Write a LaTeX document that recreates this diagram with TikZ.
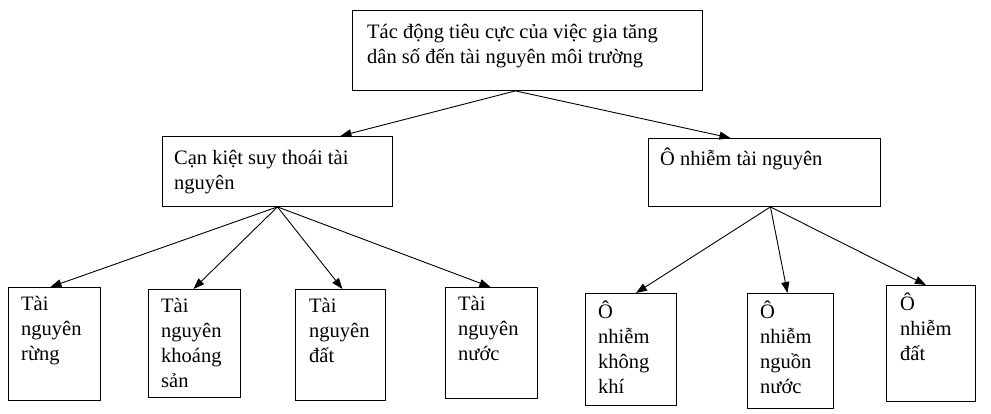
\documentclass[tikz,border=0pt]{standalone}
\usepackage{fontspec}
\setmainfont{Liberation Serif}
\usetikzlibrary{arrows.meta}
\tikzset{
  box/.style={draw, line width=0.9pt, anchor=north west, inner sep=0pt},
  txt/.style={anchor=north west, align=left, inner sep=0pt, font=\fontsize{20.5}{25}\selectfont},
  arr/.style={line width=0.9pt, -{Triangle[length=11pt,width=8pt]}}
}
\begin{document}
\begin{tikzpicture}[x=1pt,y=-1pt]
\useasboundingbox (0,0) rectangle (991,414);
% boxes
\node[box, minimum width=350pt, minimum height=80pt] (top) at (352,10) {};
\node[box, minimum width=230pt, minimum height=70pt] (L) at (162,136) {};
\node[box, minimum width=232pt, minimum height=68pt] (R) at (648,138) {};
\node[box, minimum width=92pt, minimum height=113pt] (b1) at (8,287) {};
\node[box, minimum width=92pt, minimum height=108pt] (b2) at (148,289) {};
\node[box, minimum width=90pt, minimum height=111pt] (b3) at (295,289) {};
\node[box, minimum width=92pt, minimum height=111pt] (b4) at (445,287) {};
\node[box, minimum width=91pt, minimum height=112pt] (b5) at (585,293) {};
\node[box, minimum width=86pt, minimum height=115pt] (b6) at (747,293) {};
\node[box, minimum width=89pt, minimum height=116pt] (b7) at (886,285) {};
% texts
\node[txt] (ttop) at ([shift={(15pt,-14pt)}]top.north west) {Tác động tiêu cực của việc gia tăng\\dân số đến tài nguyên môi trường};
\node[txt] (tL) at ([shift={(12pt,-14pt)}]L.north west) {Cạn kiệt suy thoái tài\\nguyên};
\node[txt] (tR) at ([shift={(12pt,-10pt)}]R.north west) {Ô nhiễm tài nguyên};
\node[txt] (t1) at ([shift={(13pt,-9pt)}]b1.north west) {Tài\\nguyên\\rừng};
\node[txt] (t2) at ([shift={(13pt,-9pt)}]b2.north west) {Tài\\nguyên\\khoáng\\sản};
\node[txt] (t3) at ([shift={(14pt,-9pt)}]b3.north west) {Tài\\nguyên\\đất};
\node[txt] (t4) at ([shift={(13pt,-9pt)}]b4.north west) {Tài\\nguyên\\nước};
\node[txt] (t5) at ([shift={(13pt,-8pt)}]b5.north west) {Ô\\nhiễm\\không\\khí};
\node[txt] (t6) at ([shift={(13pt,-8pt)}]b6.north west) {Ô\\nhiễm\\nguồn\\nước};
\node[txt] (t7) at ([shift={(14pt,-8pt)}]b7.north west) {Ô\\nhiễm\\đất};
% arrows
\draw[arr] ([xshift=-12pt]top.south) -- ([xshift=63pt]L.north);
\draw[arr] ([xshift=-12pt]top.south) -- ([xshift=-34pt]R.north);
\draw[arr] (L.south) -- ([xshift=-4pt]b1.north);
\draw[arr] (L.south) -- ([xshift=-1pt]b2.north);
\draw[arr] (L.south) -- ([xshift=2pt]b3.north);
\draw[arr] (L.south) -- ([xshift=-1pt]b4.north);
\draw[arr] ([xshift=6pt]R.south) -- ([xshift=5pt]b5.north);
\draw[arr] ([xshift=6pt]R.south) -- ([xshift=-3pt]b6.north);
\draw[arr] ([xshift=6pt]R.south) -- ([xshift=-5pt]b7.north);
\end{tikzpicture}
\end{document}
